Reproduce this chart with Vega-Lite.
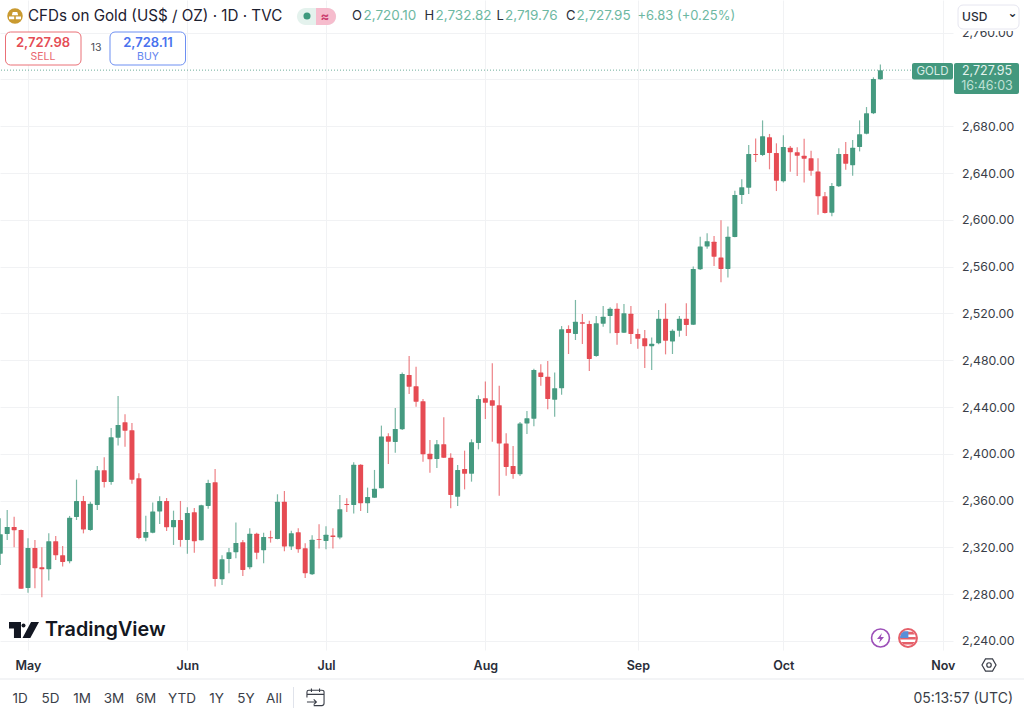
{"$schema":"https://vega.github.io/schema/vega-lite/v6.json","width":953,"height":650,"autosize":"none","padding":{"left":0,"top":0,"right":71,"bottom":58},"background":"#ffffff","config":{"view":{"stroke":null},"font":"Inter"},
"data":{"values":[
{"d":-4,"o":2314.6,"h":2344.9,"l":2305.0,"c":2331.2},{"d":-3,"o":2331.5,"h":2352.0,"l":2326.3,"c":2337.4},{"d":-2,"o":2337.4,"h":2346.3,"l":2320.1,"c":2334.6},{"d":-1,"o":2334.9,"h":2335.4,"l":2284.7,"c":2284.7},
{"d":0,"o":2285.3,"h":2327.8,"l":2281.3,"c":2319.5},{"d":1,"o":2319.5,"h":2326.3,"l":2285.0,"c":2302.1},{"d":2,"o":2303.0,"h":2320.1,"l":2277.3,"c":2301.3},{"d":3,"o":2301.3,"h":2332.0,"l":2291.6,"c":2325.2},{"d":4,"o":2325.2,"h":2329.8,"l":2309.3,"c":2313.2},{"d":5,"o":2313.2,"h":2321.2,"l":2303.6,"c":2307.5},{"d":6,"o":2308.1,"h":2346.9,"l":2306.4,"c":2345.4},{"d":7,"o":2346.0,"h":2377.9,"l":2343.4,"c":2359.7},{"d":8,"o":2359.7,"h":2364.0,"l":2332.0,"c":2335.4},{"d":9,"o":2334.9,"h":2359.1,"l":2334.3,"c":2357.4},
{"d":10,"o":2356.3,"h":2389.6,"l":2352.0,"c":2385.9},{"d":11,"o":2385.9,"h":2397.0,"l":2371.1,"c":2375.9},{"d":12,"o":2375.9,"h":2422.1,"l":2373.6,"c":2414.1},{"d":13,"o":2413.8,"h":2449.4,"l":2407.0,"c":2424.6},{"d":14,"o":2426.9,"h":2433.8,"l":2406.1,"c":2419.8},{"d":15,"o":2420.1,"h":2426.3,"l":2374.5,"c":2377.9},{"d":16,"o":2379.1,"h":2383.3,"l":2326.9,"c":2328.1},{"d":17,"o":2328.3,"h":2347.1,"l":2325.2,"c":2333.2},{"d":18,"o":2332.6,"h":2358.3,"l":2332.0,"c":2350.6},{"d":19,"o":2350.6,"h":2363.7,"l":2340.0,"c":2359.7},
{"d":20,"o":2359.7,"h":2362.2,"l":2334.0,"c":2337.2},{"d":21,"o":2337.2,"h":2351.4,"l":2322.1,"c":2343.4},{"d":22,"o":2343.4,"h":2359.7,"l":2320.6,"c":2326.3},{"d":23,"o":2326.3,"h":2354.3,"l":2314.6,"c":2349.4},{"d":24,"o":2350.0,"h":2353.7,"l":2315.5,"c":2325.2},{"d":25,"o":2326.1,"h":2356.5,"l":2325.8,"c":2356.0},{"d":26,"o":2355.4,"h":2377.9,"l":2353.1,"c":2375.1},{"d":27,"o":2375.6,"h":2387.0,"l":2286.5,"c":2293.0},{"d":28,"o":2292.7,"h":2313.2,"l":2287.9,"c":2309.8},{"d":29,"o":2310.1,"h":2319.5,"l":2297.9,"c":2315.8},
{"d":30,"o":2315.8,"h":2341.2,"l":2310.7,"c":2323.8},{"d":31,"o":2324.4,"h":2326.4,"l":2295.6,"c":2300.7},{"d":32,"o":2303.0,"h":2336.3,"l":2301.3,"c":2331.7},{"d":33,"o":2331.7,"h":2332.6,"l":2309.8,"c":2315.5},{"d":34,"o":2317.5,"h":2332.6,"l":2306.4,"c":2328.9},{"d":35,"o":2328.6,"h":2334.3,"l":2324.1,"c":2327.8},{"d":36,"o":2327.2,"h":2365.4,"l":2326.9,"c":2359.1},{"d":37,"o":2359.1,"h":2368.2,"l":2316.7,"c":2320.7},{"d":38,"o":2320.7,"h":2334.3,"l":2317.8,"c":2332.1},{"d":39,"o":2332.9,"h":2336.3,"l":2315.5,"c":2318.4},
{"d":40,"o":2319.2,"h":2323.5,"l":2293.9,"c":2297.9},{"d":41,"o":2297.0,"h":2330.3,"l":2296.4,"c":2326.6},{"d":42,"o":2327.2,"h":2339.8,"l":2319.0,"c":2326.6},{"d":43,"o":2325.5,"h":2338.0,"l":2318.4,"c":2330.9},{"d":44,"o":2330.1,"h":2336.3,"l":2319.0,"c":2328.9},{"d":45,"o":2328.4,"h":2364.8,"l":2326.9,"c":2352.6},{"d":46,"o":2357.1,"h":2362.0,"l":2350.3,"c":2356.3},{"d":47,"o":2356.3,"h":2392.7,"l":2348.9,"c":2390.7},{"d":48,"o":2390.7,"h":2391.0,"l":2351.1,"c":2357.7},{"d":49,"o":2357.7,"h":2371.1,"l":2349.4,"c":2363.1},
{"d":50,"o":2362.5,"h":2386.2,"l":2362.3,"c":2370.2},{"d":51,"o":2370.5,"h":2424.1,"l":2370.5,"c":2414.7},{"d":52,"o":2415.0,"h":2417.5,"l":2391.3,"c":2410.4},{"d":53,"o":2410.1,"h":2439.2,"l":2401.0,"c":2421.2},{"d":54,"o":2420.9,"h":2469.4,"l":2420.4,"c":2468.2},{"d":55,"o":2467.4,"h":2483.6,"l":2451.1,"c":2457.4},{"d":56,"o":2457.7,"h":2474.5,"l":2440.3,"c":2444.6},{"d":57,"o":2444.9,"h":2446.9,"l":2393.3,"c":2399.6},{"d":58,"o":2400.1,"h":2411.8,"l":2383.9,"c":2395.3},{"d":59,"o":2395.6,"h":2411.8,"l":2387.9,"c":2408.1},
{"d":60,"o":2408.1,"h":2431.2,"l":2396.4,"c":2396.7},{"d":61,"o":2396.7,"h":2400.4,"l":2353.4,"c":2364.8},{"d":62,"o":2363.4,"h":2390.4,"l":2355.4,"c":2386.2},{"d":63,"o":2387.0,"h":2402.7,"l":2369.6,"c":2383.0},{"d":64,"o":2383.0,"h":2412.4,"l":2376.2,"c":2409.8},{"d":65,"o":2409.2,"h":2450.0,"l":2403.8,"c":2446.8},{"d":66,"o":2447.4,"h":2461.7,"l":2429.7,"c":2443.7},{"d":67,"o":2445.7,"h":2477.3,"l":2410.4,"c":2441.1},{"d":68,"o":2441.4,"h":2458.2,"l":2364.2,"c":2408.9},{"d":69,"o":2408.9,"h":2417.5,"l":2381.3,"c":2388.7},
{"d":70,"o":2389.6,"h":2406.7,"l":2378.7,"c":2382.7},{"d":71,"o":2382.5,"h":2427.2,"l":2381.0,"c":2425.8},{"d":72,"o":2426.0,"h":2436.6,"l":2416.9,"c":2430.3},{"d":73,"o":2430.0,"h":2472.8,"l":2423.5,"c":2471.6},{"d":74,"o":2469.6,"h":2476.5,"l":2458.2,"c":2465.6},{"d":75,"o":2465.9,"h":2479.3,"l":2438.0,"c":2446.8},{"d":76,"o":2446.3,"h":2469.6,"l":2431.7,"c":2456.0},{"d":77,"o":2456.0,"h":2509.2,"l":2450.5,"c":2506.4},{"d":78,"o":2506.7,"h":2509.8,"l":2485.3,"c":2503.2},{"d":79,"o":2502.4,"h":2531.5,"l":2497.3,"c":2512.9},
{"d":80,"o":2512.4,"h":2519.5,"l":2493.8,"c":2511.2},{"d":81,"o":2510.9,"h":2513.8,"l":2470.8,"c":2481.0},{"d":82,"o":2483.6,"h":2517.8,"l":2483.0,"c":2511.5},{"d":83,"o":2511.2,"h":2526.3,"l":2508.7,"c":2517.2},{"d":84,"o":2517.8,"h":2525.2,"l":2503.0,"c":2524.0},{"d":85,"o":2524.0,"h":2528.6,"l":2493.3,"c":2503.2},{"d":86,"o":2503.5,"h":2528.0,"l":2503.2,"c":2520.1},{"d":87,"o":2519.8,"h":2526.3,"l":2493.8,"c":2502.4},{"d":88,"o":2502.4,"h":2507.0,"l":2489.9,"c":2498.4},{"d":89,"o":2498.7,"h":2505.8,"l":2473.3,"c":2491.9},
{"d":90,"o":2491.9,"h":2499.5,"l":2471.6,"c":2494.1},{"d":91,"o":2494.4,"h":2522.9,"l":2493.6,"c":2515.5},{"d":92,"o":2515.5,"h":2528.6,"l":2485.0,"c":2496.7},{"d":93,"o":2496.1,"h":2506.4,"l":2485.3,"c":2505.2},{"d":94,"o":2505.2,"h":2517.8,"l":2500.1,"c":2515.5},{"d":95,"o":2515.5,"h":2528.6,"l":2500.7,"c":2510.1},{"d":96,"o":2510.4,"h":2560.0,"l":2510.0,"c":2558.0},{"d":97,"o":2557.7,"h":2585.6,"l":2557.1,"c":2577.1},{"d":98,"o":2577.1,"h":2588.5,"l":2575.3,"c":2581.6},{"d":99,"o":2581.3,"h":2586.2,"l":2560.5,"c":2568.5},
{"d":100,"o":2567.9,"h":2599.6,"l":2546.6,"c":2558.0},{"d":101,"o":2558.0,"h":2594.4,"l":2550.8,"c":2585.6},{"d":102,"o":2585.3,"h":2624.9,"l":2585.0,"c":2621.2},{"d":103,"o":2621.2,"h":2634.6,"l":2613.5,"c":2627.8},{"d":104,"o":2627.5,"h":2664.0,"l":2622.1,"c":2656.3},{"d":105,"o":2656.3,"h":2669.6,"l":2649.4,"c":2655.4},{"d":106,"o":2655.4,"h":2685.0,"l":2654.5,"c":2671.4},{"d":107,"o":2670.5,"h":2673.4,"l":2643.2,"c":2657.1},{"d":108,"o":2657.1,"h":2665.4,"l":2624.6,"c":2633.5},{"d":109,"o":2632.9,"h":2672.2,"l":2632.0,"c":2662.2},
{"d":110,"o":2661.7,"h":2663.1,"l":2641.2,"c":2657.7},{"d":111,"o":2657.7,"h":2662.0,"l":2637.5,"c":2654.8},{"d":112,"o":2654.8,"h":2669.4,"l":2631.8,"c":2652.3},{"d":113,"o":2652.6,"h":2659.1,"l":2637.7,"c":2642.0},{"d":114,"o":2641.4,"h":2652.6,"l":2604.4,"c":2620.1},{"d":115,"o":2620.1,"h":2623.8,"l":2605.3,"c":2605.8},{"d":116,"o":2606.1,"h":2631.5,"l":2603.0,"c":2628.9},{"d":117,"o":2628.6,"h":2661.1,"l":2628.1,"c":2656.3},{"d":118,"o":2656.3,"h":2666.5,"l":2642.9,"c":2648.0},{"d":119,"o":2646.6,"h":2668.2,"l":2637.7,"c":2661.7},
{"d":120,"o":2662.2,"h":2685.0,"l":2658.5,"c":2673.1},{"d":121,"o":2673.6,"h":2696.4,"l":2673.1,"c":2691.0},{"d":122,"o":2691.0,"h":2721.8,"l":2690.4,"c":2720.4},{"d":123,"o":2720.10,"h":2732.82,"l":2719.76,"c":2727.95}
]},
"layer":[
{"mark":{"type":"rule","strokeWidth":1.2,"opacity":0.7,"clip":true},"encoding":{"x":{"field":"d","type":"quantitative","title":null,"scale":{"domain":[-4.04,133.48],"nice":false,"zero":false,"padding":0},"axis":{"values":[0,23,43,66,88,109,132],"labelExpr":"{'0':'May','23':'Jun','43':'Jul','66':'Aug','88':'Sep','109':'Oct','132':'Nov'}[datum.value]","grid":true,"gridColor":"#f1f2f4","gridWidth":1,"domain":false,"ticks":false,"labelFontSize":12.5,"labelFontWeight":600,"labelColor":"#2a2e39","labelPadding":9,"labelFont":"Inter","labelFlush":false,"zindex":0}},"y":{"field":"l","type":"quantitative","title":null,"scale":{"domain":[2232.3,2787.9],"nice":false,"zero":false,"padding":0},"axis":{"orient":"right","values":[2240,2280,2320,2360,2400,2440,2480,2520,2560,2600,2640,2680,2720,2760],"labelExpr":"datum.value==2720?'':format(datum.value,',.2f')","grid":true,"gridColor":"#f1f2f4","gridWidth":1,"domain":false,"ticks":false,"labelFontSize":12.3,"labelColor":"#3a3e48","labelPadding":8.5,"labelFont":"Inter","zindex":0}},"y2":{"field":"h"},"color":{"condition":{"test":"datum.c>=datum.o","value":"#459a80"},"value":"#e64b53"}}},
{"mark":{"type":"bar","size":5,"clip":true,"cornerRadius":0.5},"encoding":{"x":{"field":"d","type":"quantitative"},"y":{"field":"o","type":"quantitative"},"y2":{"field":"c"},"color":{"condition":{"test":"datum.c>=datum.o","value":"#459a80"},"value":"#e64b53"}}},
{"data":{"values":[{"p":2727.95}]},"mark":{"type":"rule","stroke":"#4a9a82","strokeWidth":1,"strokeDash":[1,2],"opacity":0.8},"encoding":{"y":{"field":"p","type":"quantitative"}}},

{"data":{"values":[{}]},"mark":{"type":"rect","x":955,"x2":1024,"y":0,"y2":31,"fill":"#ffffff"},"encoding":{}},
{"data":{"values":[{}]},"mark":{"type":"rect","x":0,"x2":1024,"y":678.5,"y2":679.5,"fill":"#e8e9ee"},"encoding":{}},
{"data":{"values":[{}]},"mark":{"type":"rect","x":293,"x2":294,"y":687,"y2":708,"fill":"#e0e3eb"},"encoding":{}},
{"data":{"values":[{}]},"mark":{"type":"rect","x":958,"x2":1019,"y":5,"y2":29,"fill":"#ffffff","stroke":"#e6e6f0","strokeWidth":1,"cornerRadius":5},"encoding":{}},
{"data":{"values":[{"t":"USD"}]},"mark":{"type":"text","x":962,"y":17,"align":"left","baseline":"middle","fontSize":12,"fontWeight":500,"fill":"#2a2e39"},"encoding":{"text":{"field":"t"}}},
{"data":{"values":[{"t":"⌄"}]},"mark":{"type":"text","x":1012.5,"y":12.5,"align":"center","baseline":"middle","fontSize":12,"fontWeight":700,"fill":"#2a2e39","font":"DejaVu Sans"},"encoding":{"text":{"field":"t"}}},

{"data":{"values":[{}]},"mark":{"type":"point","x":15,"y":16,"shape":"circle","size":240,"filled":true,"fill":"#c99a30","opacity":1},"encoding":{}},
{"data":{"values":[{}]},"mark":{"type":"point","x":15,"y":16,"size":256,"filled":true,"fill":"#ffffff","opacity":1,"shape":"M-0.28,-0.5H0.28L0.4,-0.1H-0.4ZM-0.75,0.05H-0.1V0.4H-0.75ZM0.1,0.05H0.75V0.4H0.1Z"},"encoding":{}},
{"data":{"values":[{"t":"CFDs on Gold (US$ / OZ) · 1D · TVC"}]},"mark":{"type":"text","x":28,"y":16,"align":"left","baseline":"middle","fontSize":15.2,"fill":"#1c2030"},"encoding":{"text":{"field":"t"}}},
{"data":{"values":[{}]},"mark":{"type":"rect","x":297,"x2":336,"y":8,"y2":25,"fill":"#e4f2ed","cornerRadius":8.5},"encoding":{}},
{"data":{"values":[{}]},"mark":{"type":"rect","x":316,"x2":336,"y":8,"y2":25,"fill":"#f6bccd","cornerRadiusTopRight":8.5,"cornerRadiusBottomRight":8.5},"encoding":{}},
{"data":{"values":[{}]},"mark":{"type":"point","x":307,"y":16,"shape":"circle","size":50,"filled":true,"fill":"#3f9a7e","opacity":1},"encoding":{}},
{"data":{"values":[{"t":"≈"}]},"mark":{"type":"text","x":325,"y":16.5,"align":"center","baseline":"middle","fontSize":13,"fontWeight":700,"fill":"#cc3f70"},"encoding":{"text":{"field":"t"}}},

{"data":{"values":[{"t":"O"}]},"mark":{"type":"text","x":352,"y":16,"align":"left","baseline":"middle","fontSize":13,"fill":"#2a2e39"},"encoding":{"text":{"field":"t"}}},
{"data":{"values":[{"t":"2,720.10"}]},"mark":{"type":"text","x":363.5,"y":16,"align":"left","baseline":"middle","fontSize":13.5,"fill":"#6db8a2"},"encoding":{"text":{"field":"t"}}},
{"data":{"values":[{"t":"H"}]},"mark":{"type":"text","x":424.5,"y":16,"align":"left","baseline":"middle","fontSize":13,"fill":"#2a2e39"},"encoding":{"text":{"field":"t"}}},
{"data":{"values":[{"t":"2,732.82"}]},"mark":{"type":"text","x":435.5,"y":16,"align":"left","baseline":"middle","fontSize":13.5,"fill":"#6db8a2"},"encoding":{"text":{"field":"t"}}},
{"data":{"values":[{"t":"L"}]},"mark":{"type":"text","x":496.5,"y":16,"align":"left","baseline":"middle","fontSize":13,"fill":"#2a2e39"},"encoding":{"text":{"field":"t"}}},
{"data":{"values":[{"t":"2,719.76"}]},"mark":{"type":"text","x":505,"y":16,"align":"left","baseline":"middle","fontSize":13.5,"fill":"#6db8a2"},"encoding":{"text":{"field":"t"}}},
{"data":{"values":[{"t":"C"}]},"mark":{"type":"text","x":566,"y":16,"align":"left","baseline":"middle","fontSize":13,"fill":"#2a2e39"},"encoding":{"text":{"field":"t"}}},
{"data":{"values":[{"t":"2,727.95"}]},"mark":{"type":"text","x":576.5,"y":16,"align":"left","baseline":"middle","fontSize":13.5,"fill":"#6db8a2"},"encoding":{"text":{"field":"t"}}},
{"data":{"values":[{"t":"+6.83 (+0.25%)"}]},"mark":{"type":"text","x":637.5,"y":16,"align":"left","baseline":"middle","fontSize":13,"fill":"#6db8a2"},"encoding":{"text":{"field":"t"}}},

{"data":{"values":[{}]},"mark":{"type":"rect","x":5.5,"x2":81,"y":32,"y2":65,"fill":"#ffffff","stroke":"#ea7077","strokeWidth":1,"cornerRadius":5},"encoding":{}},
{"data":{"values":[{"t":"2,727.98"}]},"mark":{"type":"text","x":43,"y":43,"align":"center","baseline":"middle","fontSize":13,"fontWeight":600,"fill":"#e54d55"},"encoding":{"text":{"field":"t"}}},
{"data":{"values":[{"t":"SELL"}]},"mark":{"type":"text","x":43,"y":56.5,"align":"center","baseline":"middle","fontSize":10.5,"fill":"#e9666e"},"encoding":{"text":{"field":"t"}}},
{"data":{"values":[{"t":"13"}]},"mark":{"type":"text","x":96,"y":48,"align":"center","baseline":"middle","fontSize":10.5,"fill":"#4a4e59"},"encoding":{"text":{"field":"t"}}},
{"data":{"values":[{}]},"mark":{"type":"rect","x":110,"x2":185.5,"y":32,"y2":65,"fill":"#ffffff","stroke":"#6d8ff2","strokeWidth":1,"cornerRadius":5},"encoding":{}},
{"data":{"values":[{"t":"2,728.11"}]},"mark":{"type":"text","x":148,"y":43,"align":"center","baseline":"middle","fontSize":13,"fontWeight":600,"fill":"#4a72ee"},"encoding":{"text":{"field":"t"}}},
{"data":{"values":[{"t":"BUY"}]},"mark":{"type":"text","x":148,"y":56.5,"align":"center","baseline":"middle","fontSize":10.5,"fill":"#5f84ef"},"encoding":{"text":{"field":"t"}}},

{"data":{"values":[{}]},"mark":{"type":"rect","x":912,"x2":953,"y":63,"y2":79.5,"fill":"#43987e","cornerRadius":2},"encoding":{}},
{"data":{"values":[{"t":"GOLD"}]},"mark":{"type":"text","x":932.5,"y":71.5,"align":"center","baseline":"middle","fontSize":11.5,"fill":"#d8ece5"},"encoding":{"text":{"field":"t"}}},
{"data":{"values":[{}]},"mark":{"type":"rect","x":954,"x2":1019,"y":63,"y2":94,"fill":"#43987e","cornerRadius":2},"encoding":{}},
{"data":{"values":[{"t":"2,727.95"}]},"mark":{"type":"text","x":987,"y":71,"align":"center","baseline":"middle","fontSize":12.5,"fill":"#e4f2ed"},"encoding":{"text":{"field":"t"}}},
{"data":{"values":[{"t":"16:46:03"}]},"mark":{"type":"text","x":987,"y":85.5,"align":"center","baseline":"middle","fontSize":12.5,"fill":"#bfe0d5"},"encoding":{"text":{"field":"t"}}},

{"data":{"values":[{}]},"mark":{"type":"point","x":24,"y":630,"size":900,"filled":true,"fill":"#131722","opacity":1,"shape":"M-1,-0.53H-0.2V0.53H-0.67V-0.1H-1ZM0.47,-0.53H1L0.42,0.53H-0.1Z"},"encoding":{}},
{"data":{"values":[{}]},"mark":{"type":"point","x":23.5,"y":625.5,"shape":"circle","size":16,"filled":true,"fill":"#131722","opacity":1},"encoding":{}},
{"data":{"values":[{"t":"TradingView"}]},"mark":{"type":"text","x":45,"y":630,"align":"left","baseline":"middle","fontSize":19.8,"fontWeight":600,"fill":"#131722"},"encoding":{"text":{"field":"t"}}},

{"data":{"values":[{}]},"mark":{"type":"point","x":880.5,"y":638,"shape":"circle","size":320,"fill":"#ffffff","stroke":"#9c4fb8","strokeWidth":1.6,"opacity":1},"encoding":{}},
{"data":{"values":[{}]},"mark":{"type":"point","x":880.5,"y":638,"size":100,"filled":true,"fill":"#9c4fb8","opacity":1,"shape":"M0.3,-1L-0.7,0.2H-0.05L-0.3,1L0.7,-0.2H0.05Z"},"encoding":{}},
{"data":{"values":[{}]},"mark":{"type":"point","x":908,"y":638,"shape":"circle","size":320,"fill":"#ffffff","stroke":"#e5606a","strokeWidth":2,"opacity":1},"encoding":{}},
{"data":{"values":[{}]},"mark":{"type":"point","x":908,"y":638,"size":256,"filled":true,"fill":"#e5606a","opacity":1,"shape":"M-0.6,-0.78H0.6L0.85,-0.45H-0.85ZM-0.98,-0.12H0.98V0.2H-0.98ZM-0.85,0.5H0.85L0.55,0.8H-0.55Z"},"encoding":{}},
{"data":{"values":[{}]},"mark":{"type":"point","x":908,"y":638,"size":256,"filled":true,"fill":"#5a8fd8","opacity":1,"shape":"M-0.8,-0.58L-0.5,-0.85H0.05V0H-0.98V-0.2Z"},"encoding":{}},

{"data":{"values":[{}]},"mark":{"type":"point","x":989,"y":665,"shape":"M-0.5,-0.87H0.5L1,0L0.5,0.87H-0.5L-1,0Z","size":196,"filled":false,"stroke":"#3a3e48","strokeWidth":1.2,"opacity":1},"encoding":{}},
{"data":{"values":[{}]},"mark":{"type":"point","x":989,"y":665,"shape":"circle","size":20,"filled":false,"stroke":"#3a3e48","strokeWidth":1.2,"opacity":1},"encoding":{}},

{"data":{"values":[{"t":"1D"}]},"mark":{"type":"text","x":20,"y":698.5,"align":"center","baseline":"middle","fontSize":13.5,"fill":"#3a3e48"},"encoding":{"text":{"field":"t"}}},
{"data":{"values":[{"t":"5D"}]},"mark":{"type":"text","x":50.5,"y":698.5,"align":"center","baseline":"middle","fontSize":13.5,"fill":"#3a3e48"},"encoding":{"text":{"field":"t"}}},
{"data":{"values":[{"t":"1M"}]},"mark":{"type":"text","x":82,"y":698.5,"align":"center","baseline":"middle","fontSize":13.5,"fill":"#3a3e48"},"encoding":{"text":{"field":"t"}}},
{"data":{"values":[{"t":"3M"}]},"mark":{"type":"text","x":114,"y":698.5,"align":"center","baseline":"middle","fontSize":13.5,"fill":"#3a3e48"},"encoding":{"text":{"field":"t"}}},
{"data":{"values":[{"t":"6M"}]},"mark":{"type":"text","x":146,"y":698.5,"align":"center","baseline":"middle","fontSize":13.5,"fill":"#3a3e48"},"encoding":{"text":{"field":"t"}}},
{"data":{"values":[{"t":"YTD"}]},"mark":{"type":"text","x":182,"y":698.5,"align":"center","baseline":"middle","fontSize":13.5,"fill":"#3a3e48"},"encoding":{"text":{"field":"t"}}},
{"data":{"values":[{"t":"1Y"}]},"mark":{"type":"text","x":216.5,"y":698.5,"align":"center","baseline":"middle","fontSize":13.5,"fill":"#3a3e48"},"encoding":{"text":{"field":"t"}}},
{"data":{"values":[{"t":"5Y"}]},"mark":{"type":"text","x":246,"y":698.5,"align":"center","baseline":"middle","fontSize":13.5,"fill":"#3a3e48"},"encoding":{"text":{"field":"t"}}},
{"data":{"values":[{"t":"All"}]},"mark":{"type":"text","x":274,"y":698.5,"align":"center","baseline":"middle","fontSize":13.5,"fill":"#3a3e48"},"encoding":{"text":{"field":"t"}}},
{"data":{"values":[{}]},"mark":{"type":"point","x":315.5,"y":697.5,"size":324,"filled":false,"stroke":"#3a3e48","strokeWidth":1.1,"opacity":1,"shape":"M-0.2,0.9H0.7Q0.95,0.9 0.95,0.65V-0.6Q0.95,-0.8 0.7,-0.8H-0.75Q-0.95,-0.8 -0.95,-0.6V0M-0.95,-0.35H0.95M-0.45,-1V-0.6M0.45,-1V-0.6M-0.95,0.5H0.1M-0.2,0.2L0.1,0.5L-0.2,0.8"},"encoding":{}},
{"data":{"values":[{"t":"05:13:57 (UTC)"}]},"mark":{"type":"text","x":1013,"y":698.5,"align":"right","baseline":"middle","fontSize":14,"fill":"#3a3e48"},"encoding":{"text":{"field":"t"}}}
]}
